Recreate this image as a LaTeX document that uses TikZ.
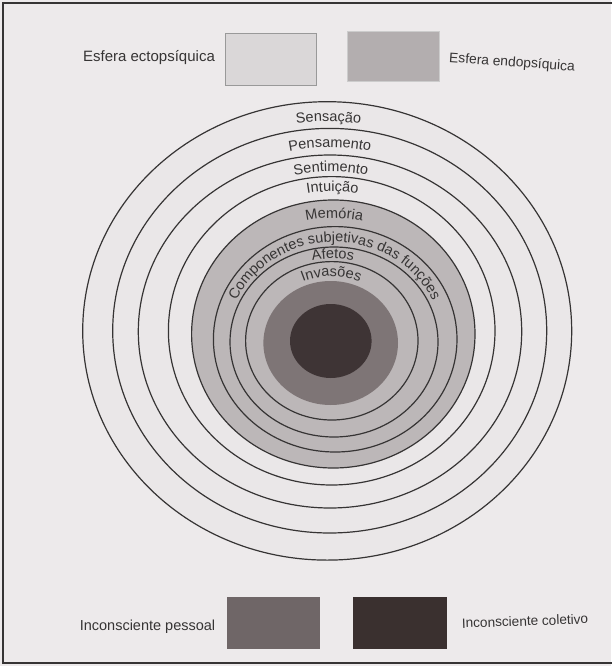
\documentclass[tikz,border=0pt]{standalone}
\usepackage{fontspec}
\setmainfont{Liberation Sans}
\usetikzlibrary{decorations.text}
\definecolor{page}{HTML}{EDEAEB}
\definecolor{band}{HTML}{EAE7E8}
\definecolor{greyzone}{HTML}{BCB7B8}
\definecolor{pessoal}{HTML}{7E7576}
\definecolor{coletivo}{HTML}{3E3435}
\definecolor{ink}{HTML}{363434}
\definecolor{ectobox}{HTML}{DAD7D8}
\definecolor{endobox}{HTML}{B3AEAF}
\definecolor{pessoalbox}{HTML}{6F6667}
\definecolor{coletivobox}{HTML}{3A302F}
\newcommand\lblfont{\fontsize{14.5}{17}\selectfont\color{ink}}
\begin{document}
\begin{tikzpicture}[x=1pt,y=-1pt,
  ring/.style={draw=ink, line width=1.2pt},
  legtxt/.style={text=ink, inner sep=0pt, font=\fontsize{14.5}{17}\selectfont},
  legbox/.style={inner sep=0pt, minimum height=52pt},
  arclabel/.style={decorate, decoration={text along path, text align=center, text={|\lblfont|#1}}}
]
\useasboundingbox (0,0) rectangle (611,666);
\fill[page] (0,0) rectangle (611,666);
\draw[ink, line width=1.5pt] (616,3) -- (3,3) -- (3,663) -- (616,663);

% rings
\filldraw[ring, fill=band] (327.2,330.9) ellipse [x radius=244.5pt, y radius=229.2pt];
\filldraw[ring, fill=band] (329.7,330.7) ellipse [x radius=217pt, y radius=202.3pt];
\filldraw[ring, fill=band] (330,331.5) ellipse [x radius=191.7pt, y radius=176.5pt];
\filldraw[ring, fill=band] (331.7,330.8) ellipse [x radius=163.3pt, y radius=154.2pt];
\filldraw[ring, fill=greyzone] (333.3,334) ellipse [x radius=141.7pt, y radius=134pt];
\filldraw[ring, fill=greyzone] (335.2,339.3) ellipse [x radius=121.8pt, y radius=112.7pt];
\filldraw[ring, fill=greyzone] (334,342) ellipse [x radius=104pt, y radius=95pt];
\filldraw[ring, fill=greyzone] (331.8,340.8) ellipse [x radius=86.2pt, y radius=79.2pt];
\fill[pessoal] (330.7,343) ellipse [x radius=67.3pt, y radius=62pt];
\fill[coletivo] (330.8,341) ellipse [x radius=40.8pt, y radius=37pt];

% labels along the rings
\path[arclabel={Sensação}] (104.7,330.8) arc[start angle=180, end angle=0, x radius=223.8pt, y radius=209.3pt];
\path[arclabel={Pensamento}] (131.8,331.1) arc[start angle=180, end angle=0, x radius=198.1pt, y radius=183.6pt];
\path[arclabel={Sentimento}] (159.5,331.2) arc[start angle=180, end angle=0, x radius=171.4pt, y radius=159.7pt];
\path[arclabel={Intuição}] (183.4,332.4) arc[start angle=180, end angle=0, x radius=149.1pt, y radius=140.9pt];
\path[arclabel={Memória}] (207.5,336.6) arc[start angle=180, end angle=0, x radius=126.7pt, y radius=118.6pt];
\path[arclabel={Componentes subjetivas das funções}] (227.4,340.6) arc[start angle=180, end angle=0, x radius=107.2pt, y radius=98.6pt];
\path[arclabel={Afetos}] (242.4,341.4) arc[start angle=180, end angle=0, x radius=90.5pt, y radius=82.9pt];
\path[arclabel={Invasões}] (260.1,342) arc[start angle=180, end angle=0, x radius=71.2pt, y radius=65.5pt];

% legend top
\node[legtxt, font=\fontsize{15}{17}\selectfont] (ectotxt) at (149,58) {Esfera ectopsíquica};
\node[legbox, draw=gray!80, fill=ectobox, minimum width=91pt] (ectobox) at (270.5,59) {};
\node[legbox, draw=gray!40, fill=endobox, minimum width=92pt, minimum height=50pt] (endobox) at (393,56) {};
\node[legtxt, font=\fontsize{13.8}{16}\selectfont, rotate=-4] (endotxt) at (512,63) {Esfera endopsíquica};

% legend bottom
\node[legtxt] (pessoaltxt) at (147.5,627) {Inconsciente pessoal};
\node[legbox, fill=pessoalbox, minimum width=93pt] (pessoalbox) at (273.5,623) {};
\node[legbox, fill=coletivobox, minimum width=94pt] (coletivobox) at (400,623) {};
\node[legtxt, font=\fontsize{13.6}{16}\selectfont, rotate=2] (coletivotxt) at (525,621) {Inconsciente coletivo};
\end{tikzpicture}
\end{document}
